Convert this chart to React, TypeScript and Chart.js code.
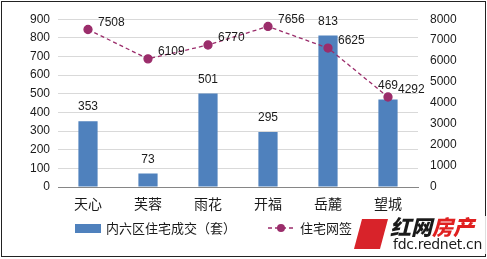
import React, { useEffect, useRef } from "react";
import { Chart, registerables } from "chart.js";

Chart.register(...registerables);

const categories = ["天心", "芙蓉", "雨花", "开福", "岳麓", "望城"];
const dealCounts = [353, 73, 501, 295, 813, 469];
const signCounts = [7508, 6109, 6770, 7656, 6625, 4292];
const leftTicks = [0, 100, 200, 300, 400, 500, 600, 700, 800, 900];
const rightTicks = [0, 1000, 2000, 3000, 4000, 5000, 6000, 7000, 8000];
const barLabel = "内六区住宅成交（套）";
const lineLabel = "住宅网签（套）";

const BAR_COLOR = "#4f81bd";
const LINE_COLOR = "#9b2d6b";
const NUM_FONT = "'Liberation Sans', Arial, sans-serif";
const CJK_FONT = "'Noto Sans CJK SC', sans-serif";

const labelPlugin = {
  id: "valueLabels",
  afterDatasetsDraw(chart: any) {
    const ctx = chart.ctx;
    ctx.save();
    ctx.font = `12px ${NUM_FONT}`;
    ctx.fillStyle = "#1a1a1a";
    ctx.textBaseline = "middle";
    const barMeta = chart.getDatasetMeta(0);
    ctx.textAlign = "center";
    barMeta.data.forEach((el: any, i: number) => {
      ctx.fillText(String(dealCounts[i]), el.x, el.y - 14);
    });
    const lineMeta = chart.getDatasetMeta(1);
    ctx.textAlign = "left";
    lineMeta.data.forEach((el: any, i: number) => {
      ctx.fillText(String(signCounts[i]), el.x + 10, el.y - 7);
    });
    ctx.restore();
  },
};

export default function App() {
  const ref = useRef<HTMLCanvasElement>(null);
  useEffect(() => {
    if (!ref.current) return;
    const chart = new Chart(ref.current, {
      type: "bar",
      data: {
        labels: categories,
        datasets: [
          {
            type: "bar",
            label: barLabel,
            data: dealCounts,
            backgroundColor: BAR_COLOR,
            yAxisID: "y",
            barPercentage: 0.64,
            categoryPercentage: 0.5,
            order: 2,
          },
          {
            type: "line",
            label: lineLabel,
            data: signCounts,
            borderColor: LINE_COLOR,
            backgroundColor: LINE_COLOR,
            borderWidth: 1.3,
            borderDash: [4, 3],
            pointRadius: 4,
            pointBackgroundColor: LINE_COLOR,
            pointBorderColor: LINE_COLOR,
            yAxisID: "y1",
            order: 1,
          } as any,
        ],
      },
      options: {
        responsive: false,
        animation: false,
        layout: { padding: { top: 15, left: 0, right: 0, bottom: 0 } },
        plugins: { legend: { display: false }, tooltip: { enabled: false } },
        scales: {
          x: {
            grid: { display: false },
            border: { display: true, color: "#868686" },
            ticks: { font: { family: CJK_FONT, size: 14 }, color: "#1a1a1a", padding: 0 },
            afterFit: (s: any) => { s.height = 72; },
          },
          y: {
            position: "left",
            min: 0,
            max: 900,
            afterBuildTicks: (s: any) => { s.ticks = leftTicks.map((v) => ({ value: v })); },
            grid: { color: "#d9d9d9", drawTicks: false },
            border: { display: false },
            ticks: { font: { family: NUM_FONT, size: 12 }, color: "#1a1a1a", padding: 8, callback: (v: any) => String(v) },
            afterFit: (s: any) => { s.width = 58; },
          },
          y1: {
            position: "right",
            min: 0,
            max: 8000,
            afterBuildTicks: (s: any) => { s.ticks = rightTicks.map((v) => ({ value: v })); },
            grid: { display: false, drawTicks: false },
            border: { display: false },
            ticks: { font: { family: NUM_FONT, size: 12 }, color: "#1a1a1a", padding: 12, callback: (v: any) => String(v) },
            afterFit: (s: any) => { s.width = 69; },
          },
        },
      },
      plugins: [labelPlugin],
    });
    return () => chart.destroy();
  }, []);

  return (
    <div style={{ position: "fixed", left: 0, top: 0, width: 487, height: 259, background: "#fff", overflow: "hidden" }}>
      <canvas ref={ref} width={487} height={259} style={{ position: "absolute", left: 0, top: 0, width: 487, height: 259 }} />
      <div style={{ position: "absolute", left: 1, top: 1, width: 485, height: 256, boxSizing: "border-box", border: "1px solid #222", pointerEvents: "none" }} />
      {/* legend */}
      <div style={{ position: "absolute", left: 75, top: 224, width: 26, height: 9, background: BAR_COLOR }} />
      <div style={{ position: "absolute", left: 106, top: 219, fontFamily: CJK_FONT, fontSize: 13, lineHeight: "18px", color: "#1a1a1a", whiteSpace: "nowrap" }}>{barLabel}</div>
      <svg style={{ position: "absolute", left: 266, top: 222 }} width={32} height={12}>
        <line x1={2} y1={6} x2={30} y2={6} stroke={LINE_COLOR} strokeWidth={1.3} strokeDasharray="4 3" />
        <circle cx={15} cy={6} r={4} fill={LINE_COLOR} />
      </svg>
      <div style={{ position: "absolute", left: 300, top: 219, fontFamily: CJK_FONT, fontSize: 13, lineHeight: "18px", color: "#1a1a1a", whiteSpace: "nowrap" }}>{lineLabel}</div>
      {/* watermark */}
      <div style={{ position: "absolute", left: 386, top: 216, width: 100, height: 38, background: "rgba(255,255,255,0.85)" }} />
      <div style={{ position: "absolute", left: 358, top: 219, width: 26, height: 30, background: "#d8232a", transform: "skewX(-15deg)" }} />
      <div style={{ position: "absolute", left: 390, top: 213, fontFamily: CJK_FONT, fontWeight: 900, fontSize: 21, lineHeight: "26px", whiteSpace: "nowrap", fontStyle: "italic" }}>
        <span style={{ color: "#1a1a1a" }}>红网</span><span style={{ color: "#e02020" }}>房产</span>
      </div>
      <div style={{ position: "absolute", left: 393, top: 236, fontFamily: "'DejaVu Sans', sans-serif", fontSize: 14, lineHeight: "17px", color: "#1a1a1a", whiteSpace: "nowrap", letterSpacing: -0.3 }}>fdc.rednet.cn</div>
    </div>
  );
}
